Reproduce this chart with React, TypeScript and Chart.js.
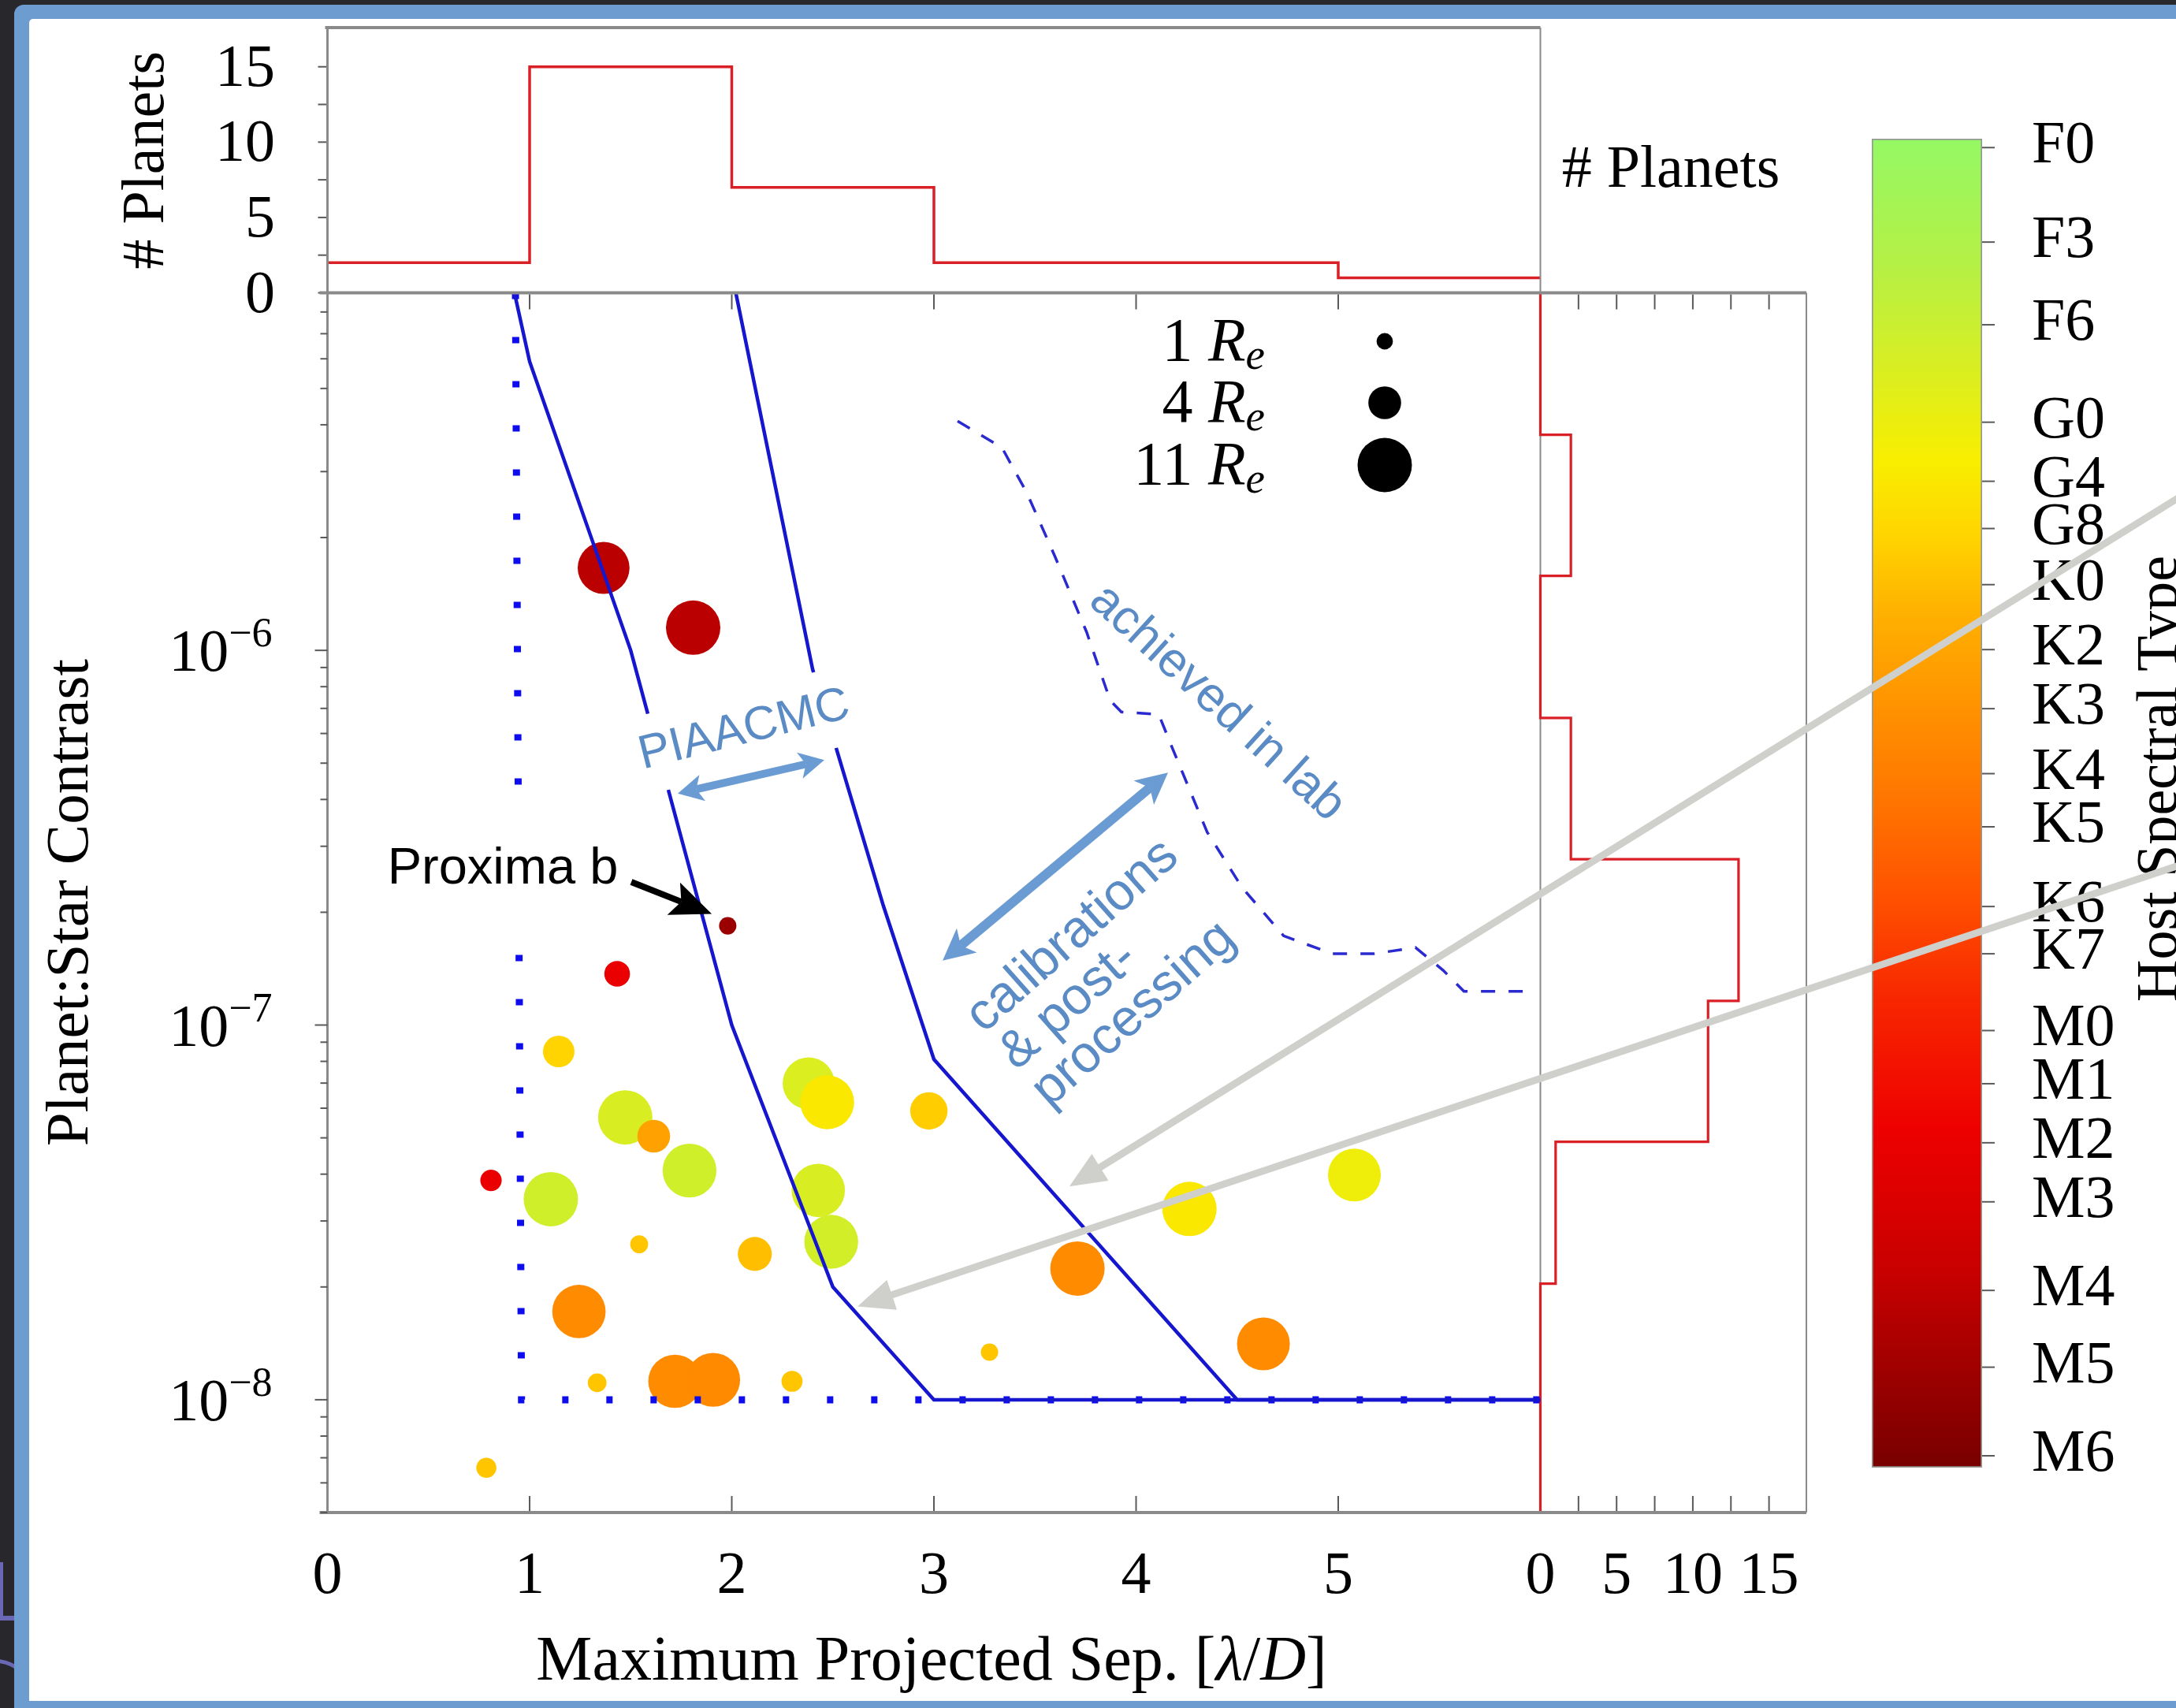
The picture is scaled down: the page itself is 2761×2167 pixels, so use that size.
import React, { useEffect, useRef } from 'react';
import { Chart, registerables } from 'chart.js';

Chart.register(...registerables);

const PAGE_W = 2761;
const PAGE_H = 2167;
const SERIF = '"Liberation Serif", "DejaVu Serif", serif';
const SANS = '"Liberation Sans", "DejaVu Sans", sans-serif';

const AXIS_GREY = '#8a8a8a';
const TICK_GREY = '#5a5a5a';
const HIST_RED = '#d92027';
const CURVE_BLUE = '#1616cf';
const DOT_BLUE = '#0c0cee';
const LAB_BLUE = '#2a2ad0';
const NOTE_BLUE = '#5b8bc5';
const ARROW_BLUE = '#6b9bd3';
const POINTER_GREY = '#cfcfcb';

// Planets: maximum projected separation [lambda/D], planet:star contrast,
// planet radius [Earth radii], host effective temperature [K]
const planetSep = [1.366, 1.809, 1.98, 1.433, 1.144, 1.473, 1.614, 1.791, 1.105, 0.809, 1.542, 1.244, 2.114, 2.38, 2.472, 2.428, 2.492, 2.975, 1.719, 1.908, 1.334, 2.298, 3.275, 0.786, 3.71, 4.264, 5.08, 4.63];
const planetContrast = [1.66e-6, 1.15e-6, 1.84e-7, 1.37e-7, 8.5e-8, 5.67e-8, 5.05e-8, 4.09e-8, 3.43e-8, 3.85e-8, 2.6e-8, 1.72e-8, 2.45e-8, 6.99e-8, 6.22e-8, 3.62e-8, 2.64e-8, 5.9e-8, 1.12e-8, 1.13e-8, 1.11e-8, 1.12e-8, 1.34e-8, 6.58e-9, 2.24e-8, 3.23e-8, 3.98e-8, 1.41e-8];
const planetRadius = [10, 11, 1.12, 2.45, 3.7, 11, 4.0, 10.8, 11, 1.7, 1.2, 10.6, 4.3, 10, 10.8, 10.6, 10.8, 5.2, 10.6, 10.8, 1.3, 1.65, 1.12, 1.5, 11, 11, 10.4, 10.4];
const planetTeff = [3350, 3350, 3100, 3900, 5950, 6530, 5530, 6620, 6620, 3900, 5850, 5300, 5800, 6500, 6150, 6530, 6600, 5900, 5300, 5280, 5850, 5850, 5850, 5850, 5300, 6150, 6300, 5300];

const legendRadii = [1, 4, 11];
const legendLabels = ['1', '4', '11'];

// Contrast curves
const iwaSep = [0.93, 0.96, 6];
const iwaContrast = [9e-6, 1e-8, 1e-8];
const piaacmcSep = [0.925, 1.0, 1.5, 2.0, 2.5, 3.0, 6.0];
const piaacmcContrast = [9e-6, 5.9e-6, 1e-6, 1e-7, 2e-8, 1e-8, 1e-8];
const postProcSep = [2.02, 2.4, 2.75, 3.0, 4.5, 6.0];
const postProcContrast = [9e-6, 8.9e-7, 2.08e-7, 8.1e-8, 1e-8, 1e-8];
const labSep = [3.117, 3.336, 3.46, 3.597, 3.755, 3.872, 3.927, 4.112, 4.181, 4.352, 4.524, 4.73, 4.97, 5.176, 5.382, 5.519, 5.622, 5.931];
const labContrast = [4.09e-6, 3.48e-6, 2.63e-6, 1.79e-6, 1.12e-6, 7.35e-7, 6.85e-7, 6.75e-7, 5.46e-7, 3.27e-7, 2.33e-7, 1.73e-7, 1.55e-7, 1.55e-7, 1.61e-7, 1.4e-7, 1.23e-7, 1.23e-7];

// Marginal histograms
const sepBinEdges = [0, 1, 2, 3, 4, 5, 6];
const sepBinCounts = [2, 15, 7, 2, 2, 1];
const contrastBinEdges = [9.0e-6, 3.76e-6, 1.58e-6, 6.6e-7, 2.77e-7, 1.16e-7, 4.88e-8, 2.04e-8, 8.57e-9];
const contrastBinCounts = [0, 2, 0, 2, 13, 11, 1, 0];

// Axes
const SEP_MIN = 0;
const SEP_MAX = 6;
const CONTRAST_MIN = 5e-9;
const CONTRAST_MAX = 9e-6;
const TOP_COUNT_MAX = 17.6;
const RIGHT_COUNT_MAX = 17.45;
const TEFF_MIN = 2800;
const TEFF_MAX = 7300;
const sepTicks = [0, 1, 2, 3, 4, 5];
const contrastDecades = [1e-8, 1e-7, 1e-6];
const contrastExponents = ['\u22128', '\u22127', '\u22126'];
const countTicks = [0, 5, 10, 15];
const countMinorTicks = [2.5, 7.5, 12.5];

// Colour bar
const spectralTypes = ['F0', 'F3', 'F6', 'G0', 'G4', 'G8', 'K0', 'K2', 'K3', 'K4', 'K5', 'K6', 'K7', 'M0', 'M1', 'M2', 'M3', 'M4', 'M5', 'M6'];
const spectralTeff = [7270, 6950, 6670, 6340, 6140, 5980, 5790, 5570, 5370, 5150, 4970, 4700, 4540, 4280, 4100, 3900, 3700, 3400, 3140, 2840];
const cmapTeff = [2800, 3140, 3460, 3950, 4400, 4720, 5050, 5370, 5690, 5950, 6210, 6530, 6860, 7300];
const cmapColors = ['#780000', '#a00000', '#c80000', '#ee0000', '#f82800', '#ff5000', '#ff7400', '#ff9200', '#ffb000', '#ffd400', '#f8ee00', '#d8ee22', '#b6f044', '#94f864'];

// Annotations (placed in data coordinates of the main panel)
const piaacmcNote = { sep: 2.062, contrast: 6.12e-7, angle: -14 };
const piaacmcArrow = { sep1: 1.733, c1: 4.15e-7, sep2: 2.458, c2: 5.1e-7 };
const labNote = { sep: 4.4, contrast: 7.23e-7, angle: 42.3 };
const calibNote = { sep: 3.199, contrast: 1.01e-7, angle: -41.5, lines: ['calibrations', '& post-', 'processing'] };
const calibArrow = { sep1: 3.043, c1: 1.486e-7, sep2: 4.158, c2: 4.72e-7 };
const proximaNote = { sep: 0.297, contrast: 2.38e-7 };
const proximaArrow = { sep1: 1.503, c1: 2.41e-7, sep2: 1.901, c2: 1.98e-7 };
const pointerTipSep = [3.67, 2.622];
const pointerTipContrast = [3.71e-8, 1.775e-8];
const pointerTailSep = [9.144, 9.144];
const pointerTailContrast = [2.53e-6, 2.65e-7];

// Panel boxes on the page
const MAIN_BOX = { left: 415.5, top: 371.5, right: 1954.5, bottom: 1919 };
const TOPHIST_BOX = { left: 415.5, top: 35, right: 1954.5, bottom: 371.5 };
const RIGHTHIST_BOX = { left: 1954.5, top: 371.5, right: 2292, bottom: 1919 };
const CBAR_BOX = { left: 2375, top: 176, right: 2515, bottom: 1862 };

const padFor = (b: any) => ({ left: b.left, top: b.top, right: PAGE_W - b.right, bottom: PAGE_H - b.bottom });

function hexToRgb(h: string) {
  const n = parseInt(h.slice(1), 16);
  return [(n >> 16) & 255, (n >> 8) & 255, n & 255];
}

function teffColor(t: number) {
  if (t <= cmapTeff[0]) return cmapColors[0];
  for (let i = 1; i < cmapTeff.length; i++) {
    if (t <= cmapTeff[i]) {
      const f = (t - cmapTeff[i - 1]) / (cmapTeff[i] - cmapTeff[i - 1]);
      const a = hexToRgb(cmapColors[i - 1]);
      const b = hexToRgb(cmapColors[i]);
      const c = a.map((v, k) => Math.round(v + (b[k] - v) * f));
      return `rgb(${c[0]},${c[1]},${c[2]})`;
    }
  }
  return cmapColors[cmapColors.length - 1];
}

const markerRadius = (re: number) => 10.4 * Math.sqrt(re);

function seg(ctx: any, x1: number, y1: number, x2: number, y2: number, w: number, c: string) {
  ctx.beginPath();
  ctx.moveTo(x1, y1);
  ctx.lineTo(x2, y2);
  ctx.lineWidth = w;
  ctx.strokeStyle = c;
  ctx.lineCap = 'butt';
  ctx.stroke();
}

function drawRuns(ctx: any, runs: any[], x: number, y: number, align: string) {
  let total = 0;
  const widths = runs.map((r) => {
    ctx.font = r.font;
    const w = ctx.measureText(r.text).width;
    total += w;
    return w;
  });
  let cx = align === 'center' ? x - total / 2 : align === 'right' ? x - total : x;
  ctx.textAlign = 'left';
  ctx.textBaseline = 'alphabetic';
  runs.forEach((r, i) => {
    ctx.font = r.font;
    ctx.fillText(r.text, cx, y + (r.dy || 0));
    cx += widths[i];
  });
}

function rotatedText(ctx: any, text: string, x: number, y: number, deg: number, font: string, color: string, align = 'center', baseline = 'alphabetic') {
  ctx.save();
  ctx.translate(x, y);
  ctx.rotate((deg * Math.PI) / 180);
  ctx.font = font;
  ctx.fillStyle = color;
  ctx.textAlign = align;
  ctx.textBaseline = baseline;
  ctx.fillText(text, 0, 0);
  ctx.restore();
}

function arrowHead(ctx: any, tx: number, ty: number, ux: number, uy: number, len: number, half: number, notch: number) {
  const nx = -uy;
  const ny = ux;
  ctx.beginPath();
  ctx.moveTo(tx, ty);
  ctx.lineTo(tx - ux * len + nx * half, ty - uy * len + ny * half);
  ctx.lineTo(tx - ux * len * notch, ty - uy * len * notch);
  ctx.lineTo(tx - ux * len - nx * half, ty - uy * len - ny * half);
  ctx.closePath();
  ctx.fill();
}

function drawArrow(ctx: any, x1: number, y1: number, x2: number, y2: number, opt: any) {
  const d = Math.hypot(x2 - x1, y2 - y1);
  const ux = (x2 - x1) / d;
  const uy = (y2 - y1) / d;
  const nx = -uy;
  const ny = ux;
  const back = opt.headLen * opt.notch;
  const sx1 = opt.double ? x1 + ux * back : x1;
  const sy1 = opt.double ? y1 + uy * back : y1;
  const sx2 = x2 - ux * back;
  const sy2 = y2 - uy * back;
  const h = opt.shaft / 2;
  ctx.fillStyle = opt.color;
  ctx.beginPath();
  ctx.moveTo(sx1 + nx * h, sy1 + ny * h);
  ctx.lineTo(sx2 + nx * h, sy2 + ny * h);
  ctx.lineTo(sx2 - nx * h, sy2 - ny * h);
  ctx.lineTo(sx1 - nx * h, sy1 - ny * h);
  ctx.closePath();
  ctx.fill();
  arrowHead(ctx, x2, y2, ux, uy, opt.headLen, opt.headHalf, opt.notch);
  if (opt.double) arrowHead(ctx, x1, y1, -ux, -uy, opt.headLen, opt.headHalf, opt.notch);
}

function logTickValues(min: number, max: number) {
  const out: { v: number; major: boolean }[] = [];
  for (let e = Math.floor(Math.log10(min)); e <= Math.ceil(Math.log10(max)); e++) {
    for (let k = 1; k <= 9; k++) {
      const v = k * Math.pow(10, e);
      if (v < min * 0.999 || v > max * 1.001) continue;
      out.push({ v, major: k === 1 });
    }
  }
  return out;
}

// ---------- main scatter panel ----------
const mainDecor = {
  id: 'mainDecor',
  afterDatasetsDraw(chart: any) {
    const ctx = chart.ctx;
    const xs = chart.scales.x;
    const ys = chart.scales.y;
    const ca = chart.chartArea;
    const px = (v: number) => xs.getPixelForValue(v);
    const py = (v: number) => ys.getPixelForValue(v);
    ctx.save();

    // PIAACMC label on a white band
    {
      const cx = px(piaacmcNote.sep);
      const cy = py(piaacmcNote.contrast);
      ctx.save();
      ctx.translate(cx, cy);
      ctx.rotate((piaacmcNote.angle * Math.PI) / 180);
      ctx.fillStyle = '#ffffff';
      ctx.fillRect(-160, -50, 320, 100);
      ctx.restore();
      rotatedText(ctx, 'PIAACMC', cx, cy, piaacmcNote.angle, `60px ${SANS}`, NOTE_BLUE, 'center', 'middle');
      drawArrow(ctx, px(piaacmcArrow.sep1), py(piaacmcArrow.c1), px(piaacmcArrow.sep2), py(piaacmcArrow.c2), {
        color: ARROW_BLUE, shaft: 10, headLen: 32, headHalf: 17, notch: 0.75, double: true,
      });
    }

    // achieved in lab
    rotatedText(ctx, 'achieved in lab', px(labNote.sep), py(labNote.contrast), labNote.angle, `62px ${SANS}`, NOTE_BLUE, 'center', 'middle');

    // calibrations & post-processing
    {
      ctx.save();
      ctx.translate(px(calibNote.sep), py(calibNote.contrast));
      ctx.rotate((calibNote.angle * Math.PI) / 180);
      ctx.font = `66px ${SANS}`;
      ctx.fillStyle = NOTE_BLUE;
      ctx.textAlign = 'left';
      ctx.textBaseline = 'middle';
      calibNote.lines.forEach((t, i) => ctx.fillText(t, 0, i * 63));
      ctx.restore();
      drawArrow(ctx, px(calibArrow.sep1), py(calibArrow.c1), px(calibArrow.sep2), py(calibArrow.c2), {
        color: ARROW_BLUE, shaft: 12, headLen: 40, headHalf: 20, notch: 0.75, double: true,
      });
    }

    // Proxima b
    {
      const ax = px(proximaNote.sep);
      const ay = py(proximaNote.contrast);
      ctx.fillStyle = '#ffffff';
      ctx.fillRect(ax - 10, ay - 122, 350, 166);
      ctx.font = `65px ${SANS}`;
      ctx.fillStyle = '#000000';
      ctx.textAlign = 'left';
      ctx.textBaseline = 'alphabetic';
      ctx.fillText('Proxima b', ax, ay);
      drawArrow(ctx, px(proximaArrow.sep1), py(proximaArrow.c1), px(proximaArrow.sep2), py(proximaArrow.c2), {
        color: '#000000', shaft: 8, headLen: 52, headHalf: 22, notch: 0.8, double: false,
      });
    }

    // size legend
    {
      const dotX = ca.right - 197.5;
      const rowY = [ca.top + 61.5, ca.top + 139.5, ca.top + 218.5];
      const textRight = ca.right - 349.5;
      legendRadii.forEach((re, i) => {
        ctx.beginPath();
        ctx.arc(dotX, rowY[i], markerRadius(re), 0, Math.PI * 2);
        ctx.fillStyle = '#000000';
        ctx.fill();
        ctx.fillStyle = '#000000';
        drawRuns(ctx, [
          { text: legendLabels[i] + ' ', font: `78px ${SERIF}` },
          { text: 'R', font: `italic 78px ${SERIF}` },
          { text: 'e', font: `italic 55px ${SERIF}`, dy: 11 },
        ], textRight, rowY[i] + 24, 'right');
      });
    }
    ctx.restore();
  },
  afterDraw(chart: any) {
    const ctx = chart.ctx;
    const xs = chart.scales.x;
    const ys = chart.scales.y;
    const ca = chart.chartArea;
    ctx.save();

    // frame
    seg(ctx, ca.left - 10, ca.top, RIGHTHIST_BOX.right, ca.top, 4, AXIS_GREY);
    seg(ctx, ca.left - 10, ca.bottom, RIGHTHIST_BOX.right, ca.bottom, 4, AXIS_GREY);
    seg(ctx, ca.left, TOPHIST_BOX.top, ca.left, ca.bottom, 3, AXIS_GREY);

    // x ticks (inward, top and bottom)
    sepTicks.forEach((v) => {
      if (v === 0) return;
      const x = xs.getPixelForValue(v);
      seg(ctx, x, ca.bottom - 2, x, ca.bottom - 21, 2, TICK_GREY);
      seg(ctx, x, ca.top + 2, x, ca.top + 21, 2, TICK_GREY);
    });
    // y ticks (outward, log minor)
    logTickValues(CONTRAST_MIN, CONTRAST_MAX).forEach(({ v, major }) => {
      const y = ys.getPixelForValue(v);
      if (y < ca.top + 3) return;
      seg(ctx, ca.left - (major ? 16 : 9), y, ca.left, y, 2, TICK_GREY);
    });

    // tick labels
    ctx.fillStyle = '#000000';
    ctx.font = `76px ${SERIF}`;
    ctx.textAlign = 'center';
    ctx.textBaseline = 'alphabetic';
    sepTicks.forEach((v) => ctx.fillText(String(v), xs.getPixelForValue(v), 2021));
    contrastDecades.forEach((v, i) => {
      const y = ys.getPixelForValue(v);
      ctx.font = `52px ${SERIF}`;
      const w2 = ctx.measureText(contrastExponents[i]).width;
      ctx.font = `76px ${SERIF}`;
      const w1 = ctx.measureText('10').width;
      const right = ca.left - 70;
      ctx.textAlign = 'left';
      ctx.font = `76px ${SERIF}`;
      ctx.fillText('10', right - w2 - w1, y + 26);
      ctx.font = `52px ${SERIF}`;
      ctx.fillText(contrastExponents[i], right - w2, y - 5);
    });

    // axis titles
    drawRuns(ctx, [
      { text: 'Maximum Projected Sep. [', font: `80px ${SERIF}` },
      { text: '\u03bb', font: `italic 80px ${SERIF}` },
      { text: '/', font: `80px ${SERIF}` },
      { text: 'D', font: `italic 80px ${SERIF}` },
      { text: ']', font: `80px ${SERIF}` },
    ], 1182, 2131, 'center');
    rotatedText(ctx, 'Planet:Star Contrast', 111, (ca.top + ca.bottom) / 2, -90, `77px ${SERIF}`, '#000000', 'center', 'alphabetic');

    // grey pointers crossing the figure
    pointerTipSep.forEach((s, i) => {
      const tx = xs.getPixelForValue(s);
      const ty = ys.getPixelForValue(pointerTipContrast[i]);
      const bx = xs.getPixelForValue(pointerTailSep[i]);
      const by = ys.getPixelForValue(pointerTailContrast[i]);
      const d = Math.hypot(bx - tx, by - ty);
      const ux = (tx - bx) / d;
      const uy = (ty - by) / d;
      seg(ctx, bx - ux * 120, by - uy * 120, tx - ux * 40, ty - uy * 40, 9, POINTER_GREY);
      ctx.fillStyle = POINTER_GREY;
      arrowHead(ctx, tx, ty, ux, uy, 46, 20, 1);
    });
    ctx.restore();
  },
};

function mainConfig(): any {
  const line = (xsArr: number[], ysArr: number[]) => xsArr.map((x, i) => ({ x, y: ysArr[i] }));
  return {
    type: 'scatter',
    data: {
      datasets: [
        {
          label: 'planets',
          data: line(planetSep, planetContrast),
          pointRadius: planetRadius.map(markerRadius),
          pointHoverRadius: planetRadius.map(markerRadius),
          pointBackgroundColor: planetTeff.map(teffColor),
          pointBorderWidth: 0,
          order: 5,
        },
        {
          label: 'IWA',
          data: line(iwaSep, iwaContrast),
          showLine: true,
          pointRadius: 0,
          borderColor: DOT_BLUE,
          borderWidth: 9,
          borderDash: [8, 48],
          order: 4,
        },
        {
          label: 'PIAACMC',
          data: line(piaacmcSep, piaacmcContrast),
          showLine: true,
          pointRadius: 0,
          borderColor: CURVE_BLUE,
          borderWidth: 4.5,
          order: 3,
        },
        {
          label: 'post-processing',
          data: line(postProcSep, postProcContrast),
          showLine: true,
          pointRadius: 0,
          borderColor: CURVE_BLUE,
          borderWidth: 4.5,
          order: 2,
        },
        {
          label: 'lab',
          data: line(labSep, labContrast),
          showLine: true,
          pointRadius: 0,
          borderColor: LAB_BLUE,
          borderWidth: 3.5,
          borderDash: [18, 17],
          order: 1,
        },
      ],
    },
    options: {
      animation: false,
      responsive: false,
      devicePixelRatio: 1,
      events: [],
      layout: { padding: padFor(MAIN_BOX) },
      scales: {
        x: { type: 'linear', min: SEP_MIN, max: SEP_MAX, display: false },
        y: { type: 'logarithmic', min: CONTRAST_MIN, max: CONTRAST_MAX, display: false },
      },
      plugins: { legend: { display: false }, tooltip: { enabled: false } },
    },
    plugins: [mainDecor],
  };
}

// ---------- separation histogram (top) ----------
const topDecor = {
  id: 'topDecor',
  afterDraw(chart: any) {
    const ctx = chart.ctx;
    const ys = chart.scales.y;
    const ca = chart.chartArea;
    ctx.save();
    seg(ctx, ca.left - 3, ca.top, ca.right, ca.top, 4, AXIS_GREY);
    seg(ctx, ca.right, ca.top, ca.right, ca.bottom, 2, AXIS_GREY);
    seg(ctx, ca.left, ca.top, ca.left, ca.bottom, 3, AXIS_GREY);
    [...countTicks, ...countMinorTicks].forEach((v) => {
      const y = ys.getPixelForValue(v);
      seg(ctx, ca.left - 12, y, ca.left, y, 2, TICK_GREY);
    });
    ctx.fillStyle = '#000000';
    ctx.font = `76px ${SERIF}`;
    ctx.textAlign = 'right';
    ctx.textBaseline = 'alphabetic';
    countTicks.forEach((v) => ctx.fillText(String(v), 349, ys.getPixelForValue(v) + 24));
    rotatedText(ctx, '# Planets', 207, (ca.top + ca.bottom) / 2, -90, `76px ${SERIF}`, '#000000', 'center', 'alphabetic');
    ctx.font = `76px ${SERIF}`;
    ctx.textAlign = 'center';
    ctx.fillText('# Planets', 2120, 237);
    ctx.restore();
  },
};

function topHistConfig(): any {
  const pts: { x: number; y: number }[] = [];
  sepBinCounts.forEach((c, i) => {
    pts.push({ x: sepBinEdges[i], y: c });
    pts.push({ x: sepBinEdges[i + 1], y: c });
  });
  return {
    type: 'scatter',
    data: {
      datasets: [{ data: pts, showLine: true, pointRadius: 0, borderColor: HIST_RED, borderWidth: 3.5, clip: false }],
    },
    options: {
      animation: false,
      responsive: false,
      devicePixelRatio: 1,
      events: [],
      layout: { padding: padFor(TOPHIST_BOX) },
      scales: {
        x: { type: 'linear', min: SEP_MIN, max: SEP_MAX, display: false },
        y: { type: 'linear', min: 0, max: TOP_COUNT_MAX, display: false },
      },
      plugins: { legend: { display: false }, tooltip: { enabled: false } },
    },
    plugins: [topDecor],
  };
}

// ---------- contrast histogram (right) ----------
const rightDecor = {
  id: 'rightDecor',
  beforeDatasetsDraw(chart: any) {
    const ca = chart.chartArea;
    seg(chart.ctx, ca.left, ca.top, ca.left, ca.bottom, 2, AXIS_GREY);
  },
  afterDraw(chart: any) {
    const ctx = chart.ctx;
    const xs = chart.scales.x;
    const ca = chart.chartArea;
    ctx.save();
    seg(ctx, ca.right, ca.top, ca.right, ca.bottom, 2, AXIS_GREY);
    [...countTicks, ...countMinorTicks].forEach((v) => {
      if (v === 0) return;
      const x = xs.getPixelForValue(v);
      seg(ctx, x, ca.bottom - 2, x, ca.bottom - 21, 2, TICK_GREY);
      seg(ctx, x, ca.top + 2, x, ca.top + 21, 2, TICK_GREY);
    });
    ctx.fillStyle = '#000000';
    ctx.font = `76px ${SERIF}`;
    ctx.textAlign = 'center';
    ctx.textBaseline = 'alphabetic';
    countTicks.forEach((v) => ctx.fillText(String(v), xs.getPixelForValue(v), 2021));
    ctx.restore();
  },
};

function rightHistConfig(): any {
  const pts: { x: number; y: number }[] = [];
  contrastBinCounts.forEach((c, i) => {
    pts.push({ x: c, y: contrastBinEdges[i] });
    pts.push({ x: c, y: contrastBinEdges[i + 1] });
  });
  pts.push({ x: 0, y: CONTRAST_MIN });
  return {
    type: 'scatter',
    data: {
      datasets: [{ data: pts, showLine: true, pointRadius: 0, borderColor: HIST_RED, borderWidth: 3.2, clip: false }],
    },
    options: {
      animation: false,
      responsive: false,
      devicePixelRatio: 1,
      events: [],
      layout: { padding: padFor(RIGHTHIST_BOX) },
      scales: {
        x: { type: 'linear', min: 0, max: RIGHT_COUNT_MAX, display: false },
        y: { type: 'logarithmic', min: CONTRAST_MIN, max: CONTRAST_MAX, display: false },
      },
      plugins: { legend: { display: false }, tooltip: { enabled: false } },
    },
    plugins: [rightDecor],
  };
}

// ---------- host spectral type colour bar ----------
function barGradient(chart: any) {
  const ys = chart.scales && chart.scales.y;
  if (!ys || !chart.chartArea) return cmapColors[0];
  const top = ys.getPixelForValue(TEFF_MAX);
  const bot = ys.getPixelForValue(TEFF_MIN);
  const g = chart.ctx.createLinearGradient(0, top, 0, bot);
  cmapTeff.forEach((t, i) => {
    const f = (ys.getPixelForValue(t) - top) / (bot - top);
    g.addColorStop(Math.min(1, Math.max(0, f)), cmapColors[i]);
  });
  return g;
}

const cbarDecor = {
  id: 'cbarDecor',
  afterDraw(chart: any) {
    const ctx = chart.ctx;
    const ys = chart.scales.y;
    const ca = chart.chartArea;
    ctx.save();
    ctx.fillStyle = '#000000';
    ctx.font = `76px ${SERIF}`;
    ctx.textAlign = 'left';
    ctx.textBaseline = 'alphabetic';
    spectralTypes.forEach((s, i) => {
      const y = ys.getPixelForValue(spectralTeff[i]);
      seg(ctx, ca.right, y, ca.right + 16, y, 2, TICK_GREY);
      ctx.fillText(s, 2578, y + 19);
    });
    rotatedText(ctx, 'Host Spectral Type', 2762, 988, -90, `74px ${SERIF}`, '#000000', 'center', 'alphabetic');
    ctx.restore();
  },
};

function colorbarConfig(): any {
  return {
    type: 'bar',
    data: {
      labels: ['Teff'],
      datasets: [
        {
          data: [[TEFF_MIN, TEFF_MAX]],
          backgroundColor: (c: any) => barGradient(c.chart),
          borderColor: 'rgba(60,70,60,0.55)',
          borderWidth: 2,
          borderSkipped: false,
          barPercentage: 1,
          categoryPercentage: 1,
        },
      ],
    },
    options: {
      animation: false,
      responsive: false,
      devicePixelRatio: 1,
      events: [],
      layout: { padding: padFor(CBAR_BOX) },
      scales: {
        x: { display: false },
        y: { type: 'linear', min: TEFF_MIN, max: TEFF_MAX, display: false },
      },
      plugins: { legend: { display: false }, tooltip: { enabled: false } },
    },
    plugins: [cbarDecor],
  };
}

const canvasStyle: React.CSSProperties = {
  position: 'absolute',
  left: 0,
  top: 0,
  width: PAGE_W,
  height: PAGE_H,
};

export default function App() {
  const topRef = useRef<HTMLCanvasElement>(null);
  const rightRef = useRef<HTMLCanvasElement>(null);
  const cbarRef = useRef<HTMLCanvasElement>(null);
  const mainRef = useRef<HTMLCanvasElement>(null);

  useEffect(() => {
    const charts = [
      new Chart(topRef.current as HTMLCanvasElement, topHistConfig()),
      new Chart(rightRef.current as HTMLCanvasElement, rightHistConfig()),
      new Chart(cbarRef.current as HTMLCanvasElement, colorbarConfig()),
      new Chart(mainRef.current as HTMLCanvasElement, mainConfig()),
    ];
    return () => charts.forEach((c) => c.destroy());
  }, []);

  const purple = '#6a68b5';
  return (
    <div style={{ position: 'absolute', left: 0, top: 0, width: PAGE_W, height: PAGE_H, background: '#28282c', overflow: 'hidden' }}>
      <div style={{ position: 'absolute', left: 0, top: 1982, width: 4, height: 73, background: purple }} />
      <div style={{ position: 'absolute', left: 0, top: 2050, width: 20, height: 6, background: purple }} />
      <div style={{ position: 'absolute', left: -55, top: 2105, width: 90, height: 100, border: `5px solid ${purple}`, borderRadius: '50%' }} />
      <div style={{ position: 'absolute', left: 18, top: 6, width: PAGE_W - 18, height: PAGE_H - 6, background: '#6d9cd0', borderTopLeftRadius: 12 }} />
      <div style={{ position: 'absolute', left: 37, top: 24, width: PAGE_W - 37, height: 2158 - 24, background: '#ffffff', borderTopLeftRadius: 5 }} />
      <canvas ref={topRef} width={PAGE_W} height={PAGE_H} style={canvasStyle} />
      <canvas ref={rightRef} width={PAGE_W} height={PAGE_H} style={canvasStyle} />
      <canvas ref={cbarRef} width={PAGE_W} height={PAGE_H} style={canvasStyle} />
      <canvas ref={mainRef} width={PAGE_W} height={PAGE_H} style={canvasStyle} />
    </div>
  );
}
